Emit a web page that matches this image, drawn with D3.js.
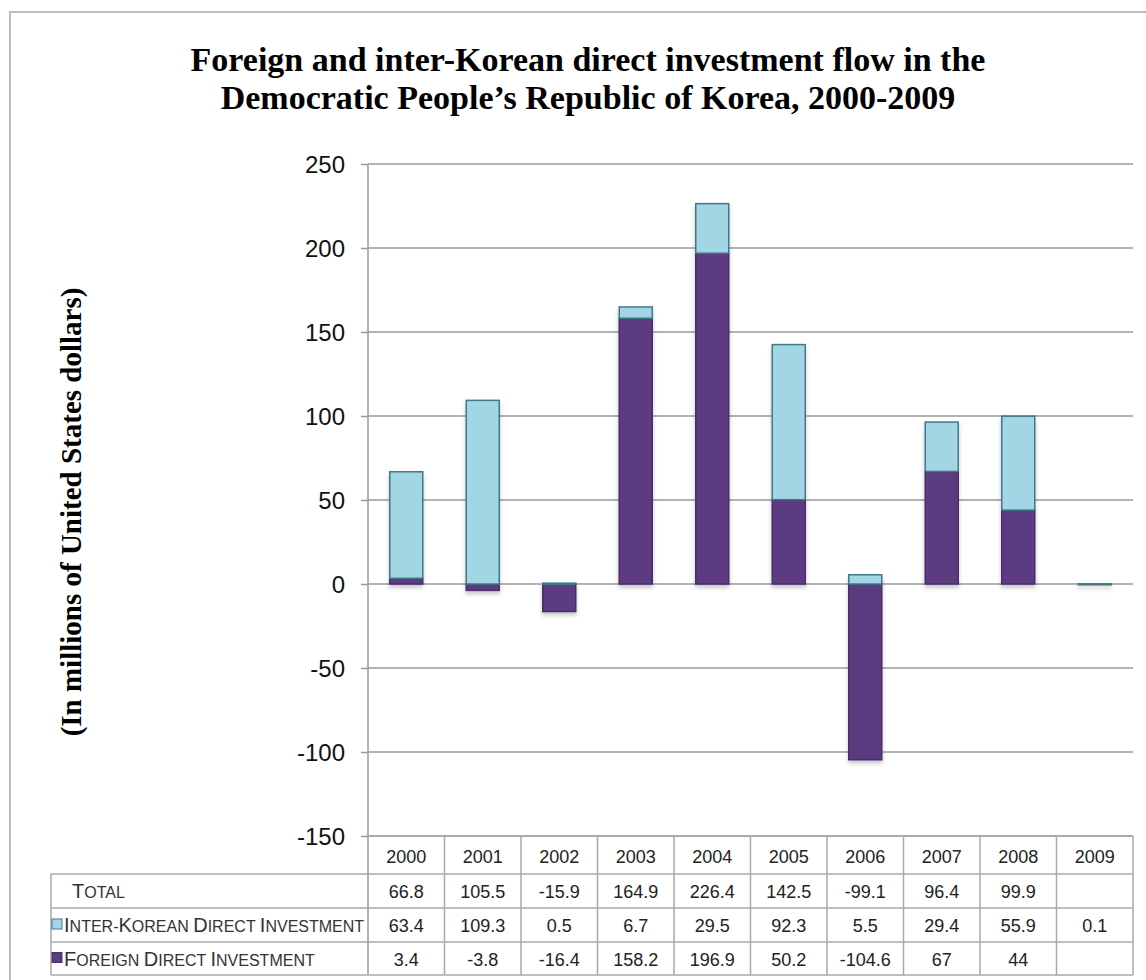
<!doctype html>
<html>
<head>
<meta charset="utf-8">
<style>
  body { margin: 0; background: #fff; }
  .grid line { stroke: #9a9a9a; stroke-width: 1.5; }
  .yaxis text { font-family: "Liberation Sans", Arial, sans-serif; font-size: 24px; fill: #111; }
  .yaxis line { stroke: #9a9a9a; stroke-width: 1.5; }
  .tbl line { stroke: #a8a8a8; stroke-width: 1.5; }
  .tbl text { font-family: "Liberation Sans", Arial, sans-serif; font-size: 18px; fill: #222; }
</style>
<script src="https://d3js.org/d3.v7.min.js"></script>
</head>
<body>
<svg width="1146" height="980"></svg>
<script>

var years = [2000, 2001, 2002, 2003, 2004, 2005, 2006, 2007, 2008, 2009];
var interKorean = [63.4, 109.3, 0.5, 6.7, 29.5, 92.3, 5.5, 29.4, 55.9, 0.1];
var foreign = [3.4, -3.8, -16.4, 158.2, 196.9, 50.2, -104.6, 67, 44, null];
var total = [66.8, 105.5, -15.9, 164.9, 226.4, 142.5, -99.1, 96.4, 99.9, null];
var yTicks = [-150, -100, -50, 0, 50, 100, 150, 200, 250];

var svg = d3.select("svg");

// outer frame
svg.append("rect")
   .attr("x", 10).attr("y", 12)
   .attr("width", 1160).attr("height", 1000)
   .attr("fill", "none")
   .attr("stroke", "#bdbdbd")
   .attr("stroke-width", 2);

// title
var titleFont = "'Liberation Serif', 'Times New Roman', serif";
svg.append("text")
   .attr("x", 588).attr("y", 71)
   .attr("text-anchor", "middle")
   .style("font-family", titleFont)
   .style("font-weight", "bold")
   .style("font-size", "34px")
   .text("Foreign and inter-Korean direct investment flow in the");
svg.append("text")
   .attr("x", 588).attr("y", 109)
   .attr("text-anchor", "middle")
   .style("font-family", titleFont)
   .style("font-weight", "bold")
   .style("font-size", "34px")
   .text("Democratic People\u2019s Republic of Korea, 2000-2009");

// y title
svg.append("text")
   .attr("transform", "translate(81,512) rotate(-90)")
   .attr("text-anchor", "middle")
   .style("font-family", titleFont)
   .style("font-weight", "bold")
   .style("font-size", "29px")
   .text("(In millions of United States dollars)");

var plotL = 368, plotR = 1133, plotT = 164, plotB = 836;

var x = d3.scaleBand().domain(years).range([plotL, plotR]).padding(0);
var y = d3.scaleLinear().domain([-150, 250]).range([plotB, plotT]);

// gridlines
svg.append("g").attr("class", "grid")
   .selectAll("line").data(yTicks).enter().append("line")
   .attr("x1", plotL).attr("x2", plotR)
   .attr("y1", function(d) { return y(d); })
   .attr("y2", function(d) { return y(d); });

// y axis (plain hyphen for negatives, like the original)
var yAxis = svg.append("g").attr("class", "yaxis")
   .attr("transform", "translate(" + plotL + ",0)")
   .call(d3.axisLeft(y).tickValues(yTicks).tickSize(7).tickPadding(16)
        .tickFormat(function(d) { return String(d); }));
yAxis.select(".domain").remove();
yAxis.selectAll("text").attr("dy", "0.36em");

// shadow
var defs = svg.append("defs");
var f = defs.append("filter").attr("id", "shadow")
   .attr("x", "-20%").attr("y", "-20%").attr("width", "140%").attr("height", "140%");
f.append("feDropShadow").attr("dx", 0).attr("dy", 3)
   .attr("stdDeviation", 2).attr("flood-color", "#000").attr("flood-opacity", 0.22);

// stacked bars
var rows = years.map(function(yr, i) {
    return { year: yr, foreign: foreign[i] || 0, inter: interKorean[i] || 0 };
});
var stack = d3.stack().keys(["foreign", "inter"]).offset(d3.stackOffsetDiverging);
var series = stack(rows);
var fills = { foreign: "#5b3a80", inter: "#a3d6e4" };
var strokes = { foreign: "#4a2e6b", inter: "#3f7888" };

var barW = 33;
var barG = svg.append("g").attr("filter", "url(#shadow)");
series.forEach(function(s) {
    barG.selectAll(".bar-" + s.key)
       .data(s.filter(function(d) { return d[1] !== d[0]; }))
       .enter().append("rect")
       .attr("class", "bar-" + s.key)
       .attr("x", function(d) { return x(d.data.year) + x.bandwidth() / 2 - barW / 2; })
       .attr("y", function(d) { return y(Math.max(d[0], d[1])); })
       .attr("width", barW)
       .attr("height", function(d) { return Math.max(1, Math.abs(y(d[0]) - y(d[1]))); })
       .attr("fill", fills[s.key])
       .attr("stroke", strokes[s.key])
       .attr("stroke-width", 1.5);
});

// vertical axis line
svg.append("line")
   .attr("x1", plotL).attr("x2", plotL)
   .attr("y1", plotT).attr("y2", 975)
   .attr("stroke", "#9a9a9a").attr("stroke-width", 1.5);

// data table
var tbl = svg.append("g").attr("class", "tbl");
var rowY = [836, 874, 908, 942, 975];
var tableLeft = 51;

tbl.append("line").attr("x1", plotL).attr("x2", plotR).attr("y1", rowY[0]).attr("y2", rowY[0]);
[1, 2, 3, 4].forEach(function(r) {
    tbl.append("line").attr("x1", tableLeft).attr("x2", plotR)
       .attr("y1", rowY[r]).attr("y2", rowY[r]);
});
tbl.selectAll(".vcol").data(years).enter().append("line")
   .attr("x1", function(d) { return x(d) + x.bandwidth(); })
   .attr("x2", function(d) { return x(d) + x.bandwidth(); })
   .attr("y1", rowY[0]).attr("y2", rowY[4]);
tbl.append("line").attr("x1", tableLeft).attr("x2", tableLeft)
   .attr("y1", rowY[1]).attr("y2", rowY[4]);

tbl.selectAll(".yr").data(years).enter().append("text")
   .attr("x", function(d) { return x(d) + x.bandwidth() / 2; })
   .attr("y", (rowY[0] + rowY[1]) / 2 + 8)
   .attr("text-anchor", "middle")
   .text(function(d) { return d; });

var tableRows = [
    { label: "Total", values: total, swatch: null, lx: 72 },
    { label: "Inter-Korean Direct Investment", values: interKorean, swatch: "inter", lx: 64 },
    { label: "Foreign Direct Investment", values: foreign, swatch: "foreign", lx: 64 }
];

// small caps by hand: capital letters big, the rest smaller
function smallCaps(textSel, label) {
    label.split("").forEach(function(ch) {
        var isCap = ch !== ch.toLowerCase();
        textSel.append("tspan")
           .style("font-size", isCap ? "20px" : "16px")
           .text(ch.toUpperCase());
    });
}

tableRows.forEach(function(r, i) {
    var cy = (rowY[i + 1] + rowY[i + 2]) / 2;
    var t = tbl.append("text").attr("x", r.lx).attr("y", cy + 7)
       .style("fill", "#333");
    smallCaps(t, r.label);
    if (r.swatch) {
        tbl.append("rect")
           .attr("x", 52).attr("y", cy - 6)
           .attr("width", 10).attr("height", 10)
           .attr("fill", fills[r.swatch])
           .attr("stroke", strokes[r.swatch])
           .attr("stroke-width", 1);
    }
    tbl.selectAll(".v" + i).data(years).enter().append("text")
       .attr("x", function(d) { return x(d) + x.bandwidth() / 2; })
       .attr("y", cy + 7)
       .attr("text-anchor", "middle")
       .text(function(d, j) { return r.values[j] === null ? "" : r.values[j]; });
});

</script>
</body>
</html>
